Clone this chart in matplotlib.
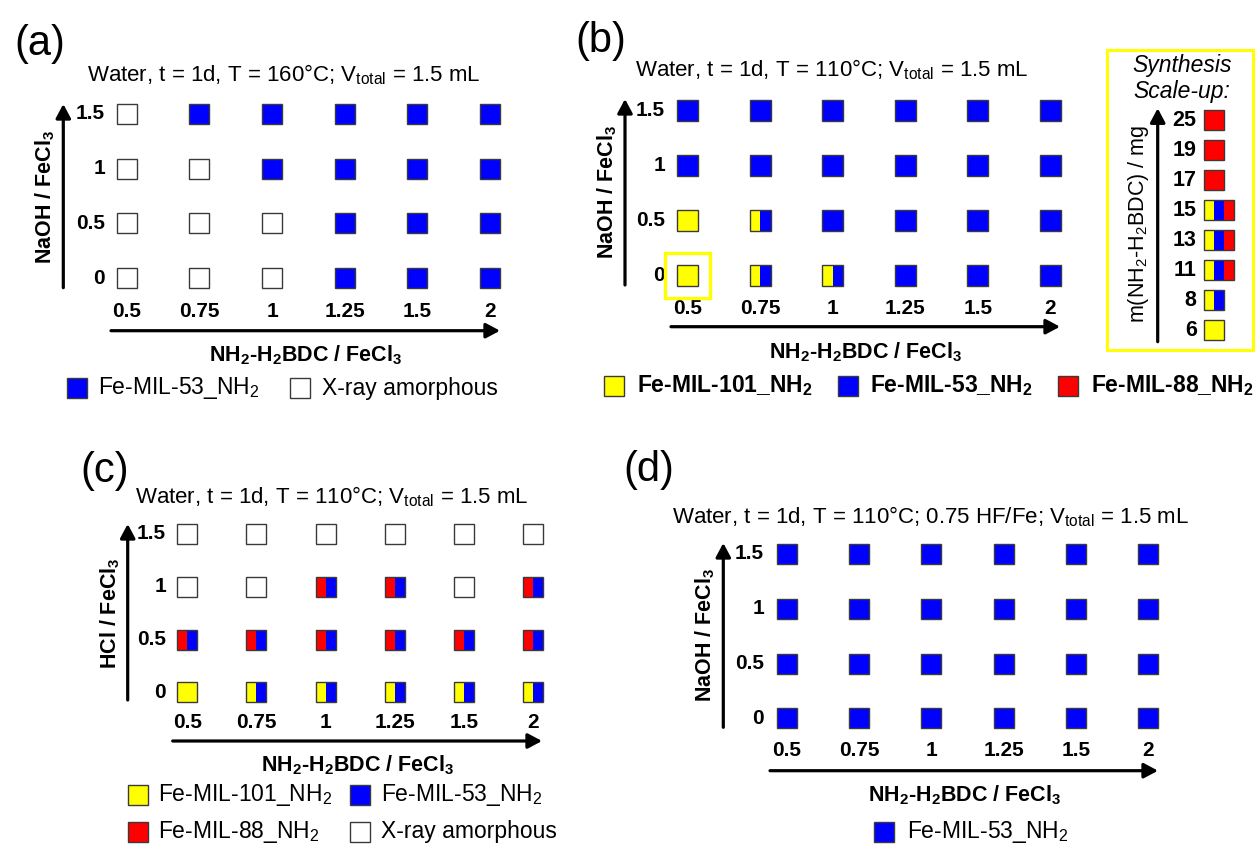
import matplotlib
matplotlib.use("Agg")
import matplotlib.pyplot as plt
from matplotlib.patches import Rectangle

plt.rcParams['font.family'] = ['Liberation Sans', 'DejaVu Sans']
plt.rcParams['mathtext.default'] = 'regular'

# ---------------- data ----------------
ratio_labels = ['0.5', '0.75', '1', '1.25', '1.5', '2']      # NH2-H2BDC / FeCl3
additive_labels = ['0', '0.5', '1', '1.5']                     # NaOH or HCl / FeCl3 (bottom -> top)

# phase codes: Y = Fe-MIL-101_NH2, B = Fe-MIL-53_NH2, R = Fe-MIL-88_NH2, A = X-ray amorphous
phases_a = [  # T = 160 C, NaOH
    ['A', 'A', 'A', 'B', 'B', 'B'],
    ['A', 'A', 'A', 'B', 'B', 'B'],
    ['A', 'A', 'B', 'B', 'B', 'B'],
    ['A', 'B', 'B', 'B', 'B', 'B'],
]
phases_b = [  # T = 110 C, NaOH
    ['Y', 'YB', 'YB', 'B', 'B', 'B'],
    ['Y', 'YB', 'B', 'B', 'B', 'B'],
    ['B', 'B', 'B', 'B', 'B', 'B'],
    ['B', 'B', 'B', 'B', 'B', 'B'],
]
phases_c = [  # T = 110 C, HCl
    ['Y', 'YB', 'YB', 'YB', 'YB', 'YB'],
    ['RB', 'RB', 'RB', 'RB', 'RB', 'RB'],
    ['A', 'A', 'RB', 'RB', 'A', 'RB'],
    ['A', 'A', 'A', 'A', 'A', 'A'],
]
phases_d = [  # T = 110 C, 0.75 HF/Fe, NaOH
    ['B', 'B', 'B', 'B', 'B', 'B'],
    ['B', 'B', 'B', 'B', 'B', 'B'],
    ['B', 'B', 'B', 'B', 'B', 'B'],
    ['B', 'B', 'B', 'B', 'B', 'B'],
]
highlight_b = ('0.5', '0')   # (ratio, NaOH) cell used for scale-up

scaleup_mass = ['6', '8', '11', '13', '15', '17', '19', '25']
scaleup_phases = ['Y', 'YB', 'YBR', 'YBR', 'YBR', 'R', 'R', 'R']

phase_colors = {'Y': '#FFFF00', 'B': '#0000FF', 'R': '#FF0000', 'A': '#FFFFFF'}
phase_names = {'Y': 'Fe-MIL-101_NH$_2$', 'B': 'Fe-MIL-53_NH$_2$',
               'R': 'Fe-MIL-88_NH$_2$', 'A': 'X-ray amorphous'}

xlabel_txt = 'NH$_2$-H$_2$BDC / FeCl$_3$'
naoh_txt = 'NaOH / FeCl$_3$'
hcl_txt = 'HCl / FeCl$_3$'

# ---------------- figure ----------------
W, H = 1255, 844
fig = plt.figure(figsize=(W / 100, H / 100), dpi=100)
ov = fig.add_axes([0, 0, 1, 1], zorder=0)
ov.set_xlim(0, W)
ov.set_ylim(H, 0)
ov.axis('off')

EDGE = '#3a3a3a'
TICK_FS = 15
LAB_FS = 15.5
TITLE_FS = 16
LEG_FS = 16.5
PANEL_FS = 30


def arrow(x1, y1, x2, y2):
    ov.annotate('', xy=(x2, y2), xytext=(x1, y1),
                arrowprops=dict(arrowstyle='-|>,head_length=0.6,head_width=0.32',
                                lw=2.3, color='black', shrinkA=0, shrinkB=0,
                                mutation_scale=14))


def draw_cells(ax, xs, ys, cells, w, h, lw=1.0):
    for x, y, cell in zip(xs, ys, cells):
        n = len(cell)
        for k, c in enumerate(cell):
            ax.bar(x - w / 2 + (k + 0.5) * w / n, h, width=w / n, bottom=y - h / 2,
                   color=phase_colors[c], linewidth=0, zorder=2)
        ax.bar(x, h, width=w, bottom=y - h / 2, fill=False, edgecolor=EDGE,
               linewidth=lw, zorder=3)


def panel(x0, dx, y0, dy, sq, cells, ylab, geo, legend, title, tag, legend_bold=False):
    ax = fig.add_axes([(x0 - 0.5 * dx) / W, 1 - (y0 + 0.5 * dy) / H, 6 * dx / W, 4 * dy / H],
                      zorder=2)
    ax.set_xlim(-0.5, 5.5)
    ax.set_ylim(-0.5, 3.5)
    ax.axis('off')
    ax.patch.set_alpha(0)
    xs, ys, cs = [], [], []
    for j, row in enumerate(cells):
        for i, cell in enumerate(row):
            xs.append(i)
            ys.append(j)
            cs.append(cell)
    draw_cells(ax, xs, ys, cs, sq / dx, sq / dy)
    # tick labels
    for i, lab in enumerate(ratio_labels):
        ax.text(i, (y0 - geo['xt_y']) / dy, lab, ha='center', va='center',
                fontsize=TICK_FS, fontweight='bold', clip_on=False)
    for j, lab in enumerate(additive_labels):
        ax.text((geo['yt_x'] - x0) / dx, j, lab, ha='right', va='center',
                fontsize=TICK_FS, fontweight='bold', clip_on=False)
    # arrows
    arrow(geo['xa'][0], geo['xa_y'], geo['xa'][1], geo['xa_y'])
    arrow(geo['ya_x'], geo['ya'][0], geo['ya_x'], geo['ya'][1])
    # axis labels
    ov.text(*geo['xl'], xlabel_txt, ha='center', va='center', fontsize=LAB_FS, fontweight='bold')
    ov.text(*geo['yl'], ylab, ha='center', va='center', rotation=90,
            fontsize=LAB_FS, fontweight='bold')
    ov.text(*geo['title'], title, ha='center', va='center', fontsize=TITLE_FS)
    ov.text(*geo['tag'], tag, ha='center', va='center', fontsize=PANEL_FS)
    # legend
    for code, sx, tx, ly in legend:
        ov.add_patch(Rectangle((sx - 10, ly - 10), 20, 20, facecolor=phase_colors[code],
                               edgecolor=EDGE, lw=1.0))
        ov.text(tx, ly, phase_names[code], ha='left', va='center', fontsize=LEG_FS,
                fontweight='bold' if legend_bold else 'normal')
    return ax


# (a)
panel(126.7, 72.66, 278.3, 54.9, 20, phases_a, naoh_txt,
      dict(xt_y=311.7, yt_x=105, xa=(111, 500), xa_y=330.7, ya_x=63.3, ya=(287.7, 104),
           xl=(306, 355), yl=(45, 196.7), title=(284, 75), tag=(40, 44)),
      [('B', 76.5, 98, 388), ('A', 300, 322, 388)],
      'Water, t = 1d, T = 160°C; V$_{total}$ = 1.5 mL', '(a)')

# (b)
ax_b = panel(687.7, 72.52, 275.3, 55, 20.7, phases_b, naoh_txt,
             dict(xt_y=308.3, yt_x=665, xa=(671, 1060), xa_y=326.7, ya_x=625, ya=(285, 99),
                  xl=(866, 351.7), yl=(607, 191.7), title=(832, 70), tag=(601, 41)),
             [('Y', 614, 637, 386), ('B', 848, 870, 386), ('R', 1068, 1091, 386)],
             'Water, t = 1d, T = 110°C; V$_{total}$ = 1.5 mL', '(b)', legend_bold=True)
hi = ratio_labels.index(highlight_b[0])
hj = additive_labels.index(highlight_b[1])
hw, hh = 45 / 72.52, 45 / 55
ax_b.add_patch(Rectangle((hi - hw / 2, hj - hh / 2), hw, hh, fill=False,
                         edgecolor='#FFFF00', lw=2.4, clip_on=False, zorder=4))

# (c)
panel(187.3, 69.14, 692.3, 52.77, 20, phases_c, hcl_txt,
      dict(xt_y=722.7, yt_x=166, xa=(172.7, 542), xa_y=741, ya_x=127.7, ya=(700, 524),
           xl=(358, 765), yl=(110, 613), title=(332, 496.7), tag=(105, 471)),
      [('Y', 137.5, 158, 795), ('B', 360.3, 380.7, 795),
       ('R', 137.5, 158, 831.7), ('A', 360.3, 380.7, 831.7)],
      'Water, t = 1d, T = 110°C; V$_{total}$ = 1.5 mL', '(c)')

# (d)
panel(786.7, 72.3, 718.3, 54.77, 20, phases_d, naoh_txt,
      dict(xt_y=751, yt_x=764, xa=(770, 1158), xa_y=770.7, ya_x=723.3, ya=(727.3, 543),
           xl=(965, 795), yl=(705, 635), title=(931, 516.7), tag=(649, 470)),
      [('B', 884, 906.7, 831.7)],
      'Water, t = 1d, T = 110°C; 0.75 HF/Fe; V$_{total}$ = 1.5 mL', '(d)')

# ---------------- synthesis scale-up inset ----------------
bx0, by0, bw, bh = 1106.7, 50, 146.6, 300
sa = fig.add_axes([bx0 / W, 1 - (by0 + bh) / H, bw / W, bh / H], zorder=2)
sa.set_xlim(0, bw / 10)
sa.set_ylim(-20 / 30, (bh - 20) / 30)
sa.set_xticks([])
sa.set_yticks([])
sa.patch.set_alpha(0)
for s in sa.spines.values():
    s.set_edgecolor('#FFFF00')
    s.set_linewidth(2.2)

sx_start = (1204.3 - bx0) / 10
for k, (m, ph) in enumerate(zip(scaleup_mass, scaleup_phases)):
    n = len(ph)
    wcell = 2.0 if n == 1 else float(n)
    draw_cells(sa, [sx_start + wcell / 2], [k], [ph], wcell, 20 / 30)
    sa.text(9.0, k, m, ha='right', va='center', fontsize=15.5, fontweight='bold')

sa.annotate('', xy=(5.1, 7.39), xytext=(5.1, -0.39),
            arrowprops=dict(arrowstyle='-|>,head_length=0.6,head_width=0.32',
                            lw=2.3, color='black', shrinkA=0, shrinkB=0, mutation_scale=14))
sa.text(3.16, 3.53, 'm(NH$_2$-H$_2$BDC) / mg', rotation=90, ha='center', va='center',
        fontsize=15.5)
sa.text(7.5, 8.83, 'Synthesis', ha='center', va='center', fontsize=16.5, style='italic')
sa.text(7.5, 7.94, 'Scale-up:', ha='center', va='center', fontsize=16.5, style='italic')

fig.savefig('out.png', dpi=100)
